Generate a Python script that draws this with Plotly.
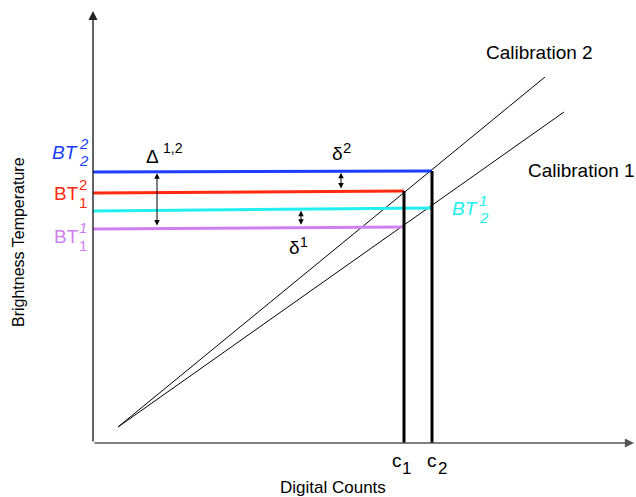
import plotly.graph_objects as go

# Calibration curves: digital counts -> brightness temperature (arbitrary units)
cal_counts = [25, 452, 471]          # common origin, end of calibration 2, end of calibration 1
cal2_bt = [16, 366]
cal1_bt = [16, 331]

# Digital counts of the two scenes
c_counts = [311, 339]                # c1, c2
c_labels = ["1", "2"]

# Brightness temperature levels read from each calibration at each count
level_names = ["BT11", "BT21", "BT12", "BT22"]
level_count = [311, 339, 311, 339]          # count where each level meets its calibration
level_at_axis = [214, 232, 250, 271]        # level value at the temperature axis
level_at_count = [216, 235, 252, 272]       # level value at the count
level_colors = ["#cf80f0", "#22f0f0", "#ff2a10", "#1a3dff"]

# Positions of the difference arrows (in counts) and the levels they join
arrow_counts = [64, 248, 208]
arrow_pairs = [("BT22", "BT11"), ("BT22", "BT12"), ("BT21", "BT11")]

W, H = 636, 497
X0, Y0 = 93, 443                     # origin of the diagram inside the page
FONT = "Liberation Sans, Arial, Helvetica, sans-serif"


def level_value(name, count):
    i = level_names.index(name)
    a, b = level_at_axis[i], level_at_count[i]
    return a + (b - a) * count / level_count[i]


fig = go.Figure()

# calibration lines
fig.add_trace(go.Scatter(x=[cal_counts[0], cal_counts[1]], y=cal2_bt, mode="lines",
                         line=dict(color="black", width=1), hoverinfo="skip"))
fig.add_trace(go.Scatter(x=[cal_counts[0], cal_counts[2]], y=cal1_bt, mode="lines",
                         line=dict(color="black", width=1), hoverinfo="skip"))

# horizontal brightness temperature levels
for i, name in enumerate(level_names):
    fig.add_trace(go.Scatter(x=[0, level_count[i]], y=[level_at_axis[i], level_at_count[i]],
                             mode="lines", line=dict(color=level_colors[i], width=3),
                             hoverinfo="skip"))

# vertical count lines up to the highest level they reach
for c in c_counts:
    top = max(level_at_count[i] for i in range(len(level_names)) if level_count[i] == c)
    fig.add_trace(go.Scatter(x=[c, c], y=[0, top], mode="lines",
                             line=dict(color="black", width=3), hoverinfo="skip"))

annotations = []

# axes with arrow heads
annotations.append(dict(x=0, y=432, ax=0, ay=0, xref="x", yref="y", axref="x", ayref="y",
                        text="", showarrow=True, arrowhead=2, arrowsize=1.3, arrowwidth=1.4,
                        arrowcolor="#222", standoff=0))
annotations.append(dict(x=541, y=0, ax=0, ay=0, xref="x", yref="y", axref="x", ayref="y",
                        text="", showarrow=True, arrowhead=2, arrowsize=1.3, arrowwidth=1.4,
                        arrowcolor="#555", standoff=0))

# double-headed difference arrows
for cnt, (hi, lo) in zip(arrow_counts, arrow_pairs):
    annotations.append(dict(x=cnt, y=level_value(hi, cnt) - 1.5, ax=cnt, ay=level_value(lo, cnt) + 1.5,
                            xref="x", yref="y", axref="x", ayref="y", text="",
                            showarrow=True, arrowhead=2, arrowside="end+start",
                            arrowsize=1.1, arrowwidth=1, arrowcolor="black",
                            standoff=0, startstandoff=0))


def note(text, px, py, size, color="black", angle=0):
    annotations.append(dict(text=text, x=px / W, y=1 - py / H, xref="paper", yref="paper",
                            xanchor="center", yanchor="middle", showarrow=False,
                            textangle=angle, font=dict(family=FONT, size=size, color=color)))


# level labels: base text with stacked superscript (calibration) and subscript (count)
blue, red, cyan, purple = level_colors[3], level_colors[2], level_colors[1], level_colors[0]
note("<i>BT</i>", 65, 152.5, 19, blue)
note("<i>2</i>", 83.5, 143, 15, blue)
note("<i>2</i>", 83.5, 160.5, 15, blue)

note("BT", 66, 193.5, 19, red)
note("2", 83, 184, 15, red)
note("1", 83, 202, 15, red)

note("BT", 66, 236.5, 19, purple)
note("<i>1</i>", 82.5, 227, 15, purple)
note("1", 82.5, 245.5, 15, purple)

note("<i>BT</i>", 465, 208.5, 19, cyan)
note("<i>1</i>", 482.5, 200, 15, cyan)
note("<i>2</i>", 484, 217.5, 15, cyan)

# difference labels
note("Δ", 152.5, 157, 19)
note("1,2", 172.5, 148, 14)
note("δ", 337, 153.5, 19)
note("2", 347, 147, 15)
note("δ", 294, 247.5, 19)
note("1", 303.5, 242.5, 14)

# calibration names
note("Calibration 2", 539, 52, 19)
note("Calibration 1", 581.5, 170.5, 19)

# count labels under the axis
for c, lab in zip(c_counts, c_labels):
    px = X0 + c
    note("c", px - 7 if lab == "1" else px, 460, 19)
    note(lab, px + 2 if lab == "1" else px + 10, 468.5, 17)

# axis titles
note("Digital Counts", 333, 487.5, 17)
note("Brightness Temperature", 18, 242, 16, angle=-90)

fig.update_layout(
    width=W, height=H,
    margin=dict(l=0, r=0, t=0, b=0),
    paper_bgcolor="white", plot_bgcolor="white",
    showlegend=False,
    xaxis=dict(range=[-X0, W - X0], visible=False, fixedrange=True),
    yaxis=dict(range=[Y0 - H, Y0], visible=False, fixedrange=True),
    annotations=annotations,
)

fig.write_html("out.html", config={"displayModeBar": False})
